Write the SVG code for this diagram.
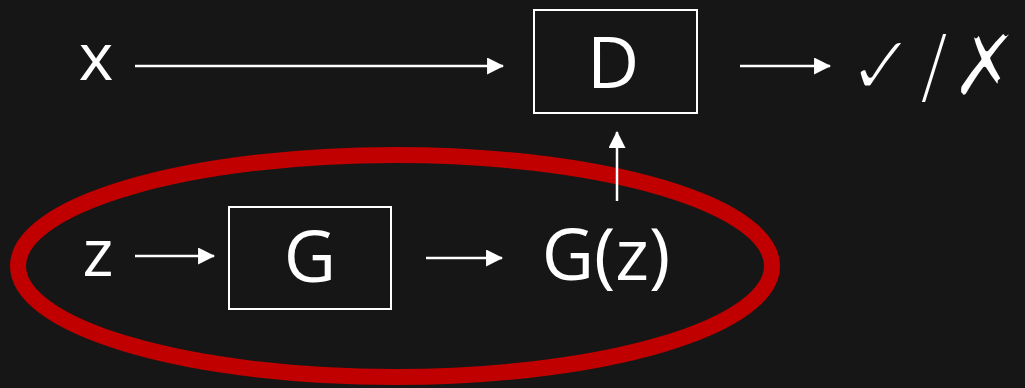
<svg xmlns="http://www.w3.org/2000/svg" width="1025" height="388" viewBox="0 0 1025 388">
  <style>
    .box { fill: none; stroke: #ffffff; stroke-width: 2; }
    .lbl { fill: #ffffff; font-family: "Open Sans", "Noto Sans", sans-serif; }
    .sym { fill: #ffffff; font-family: "DejaVu Sans", sans-serif; stroke: #161616; stroke-width: 4; stroke-linejoin: round; }
    .wire { stroke: #ffffff; stroke-width: 2.5; fill: none; marker-end: url(#head); }
  </style>
  <defs>
    <marker id="head" viewBox="0 0 16 16" refX="15" refY="8" markerWidth="17" markerHeight="17" markerUnits="userSpaceOnUse" orient="auto">
      <path d="M0,0 L16,8 L0,16 Z" fill="#ffffff"/>
    </marker>
  </defs>
  <rect width="1025" height="388" fill="#161616"/>

  <!-- generator grouping -->
  <ellipse id="generator-ring" cx="395" cy="266" rx="377" ry="111" fill="none" stroke="#c00000" stroke-width="16"/>

  <g id="x-input">
    <text class="lbl" x="96" y="80" font-size="66" text-anchor="middle">x</text>
  </g>
  <g id="z-input">
    <text class="lbl" x="98" y="276" font-size="66" text-anchor="middle">z</text>
  </g>
  <g id="D">
    <rect class="box" x="534" y="10" width="163" height="103"/>
    <text class="lbl" x="613" y="88" font-size="72" text-anchor="middle">D</text>
  </g>
  <g id="G">
    <rect class="box" x="229" y="207" width="162" height="102"/>
    <text class="lbl" x="310" y="282" font-size="72" text-anchor="middle">G</text>
  </g>
  <g id="Gz">
    <text class="lbl" x="606" y="280" font-size="72" text-anchor="middle">G(z)</text>
  </g>
  <g id="verdict">
    <text class="sym" x="934" y="96" font-size="88" text-anchor="middle">✓/✗</text>
  </g>

  <g id="connectors">
    <line class="wire" x1="135" y1="66" x2="503" y2="66"/>
    <line class="wire" x1="740" y1="66" x2="830" y2="66"/>
    <line class="wire" x1="135" y1="256" x2="214" y2="256"/>
    <line class="wire" x1="426" y1="258" x2="502" y2="258"/>
    <line class="wire" x1="617" y1="201" x2="617" y2="132"/>
  </g>
</svg>
